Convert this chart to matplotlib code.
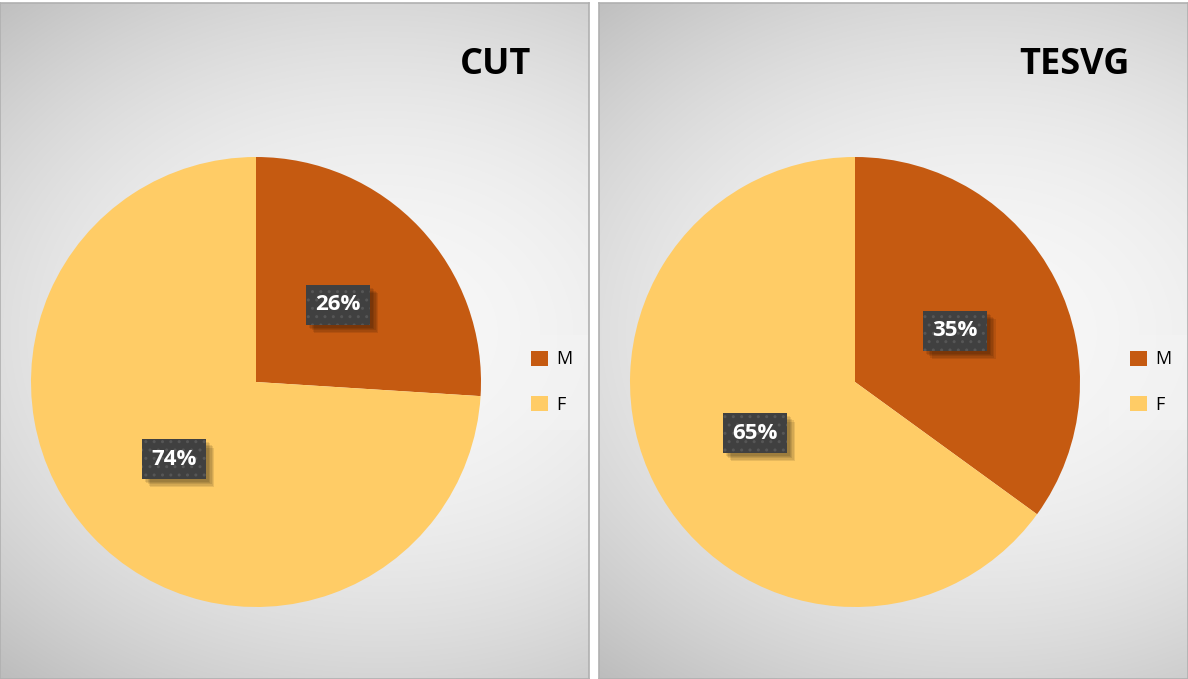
import numpy as np
import matplotlib
matplotlib.use("Agg")
import matplotlib.pyplot as plt
import matplotlib.patheffects as pe

# ==========================================================
# Data
# ==========================================================
titles = ["CUT", "TESVG"]
labels = ["M", "F"]
shares_cut = [26, 74]
shares_tesvg = [35, 65]
colors = ["#C55A11", "#FFCC66"]

W, H = 1188, 679
plt.rcParams["font.family"] = ["Open Sans", "DejaVu Sans"]

fig = plt.figure(figsize=(W / 100, H / 100), dpi=100)
fig.patch.set_facecolor("white")


def px_axes(x, y, w, h, **kw):
    # pixel box with origin top-left -> figure fraction
    return fig.add_axes([x / W, (H - y - h) / H, w / W, h / H], **kw)


def draw_panel(x0, title, shares):
    pw, ph = 589, 676
    bg = px_axes(x0, 3, pw, ph)
    # radial gradient, light right of the pie, grey in the corners
    yy, xx = np.mgrid[0:ph, 0:pw]
    dist = np.sqrt((xx - 380) ** 2 + (1.3 * (yy - 330)) ** 2)
    val = 0.97 - 0.22 * np.clip(dist / 573.0, 0, 1.05) ** 2
    img = np.dstack([val, val, val])
    bg.imshow(img, aspect="auto", extent=[0, pw, ph, 0])
    bg.set_xlim(0, pw)
    bg.set_ylim(ph, 0)
    bg.set_xticks([])
    bg.set_yticks([])
    for s in bg.spines.values():
        s.set_color("#b0b0b0")
        s.set_linewidth(1.2)

    bg.text(531, 62, title, ha="right", va="center", fontsize=26,
            fontweight="bold", color="black")

    # legend background
    bg.add_patch(plt.Rectangle((510, 332), 79, 95, facecolor="#f4f4f4",
                               edgecolor="none", alpha=0.5))

    ax = px_axes(x0 + 31, 157, 450, 450)
    wedges, _, autotexts = ax.pie(
        shares,
        colors=colors,
        startangle=90,
        counterclock=False,
        autopct="%d%%",
        pctdistance=0.5,
        radius=1,
        wedgeprops=dict(linewidth=0),
        textprops=dict(color="white", fontsize=16, fontweight="bold"),
    )
    ax.set_xlim(-1, 1)
    ax.set_ylim(-1, 1)
    for t in autotexts:
        # plain box carrying the soft shadow
        t.set_bbox(dict(boxstyle="square,pad=0.42", facecolor="#404040",
                        edgecolor="none", linewidth=0))
        shadows = [pe.SimplePatchShadow(offset=(k, -k), shadow_rgbFace="black",
                                        alpha=0.09) for k in (2, 3, 4, 5, 6)]
        t.get_bbox_patch().set_path_effects(shadows + [pe.Normal()])
        # dotted box on top
        x, y = t.get_position()
        ax.text(x, y, t.get_text(), ha="center", va="center", color="white",
                fontsize=16, fontweight="bold", zorder=t.get_zorder() + 1,
                bbox=dict(boxstyle="square,pad=0.42", facecolor="#404040",
                          edgecolor="#565656", hatch="..", linewidth=0))

    ax.legend(wedges, labels, loc="center left",
              bbox_to_anchor=((x0 + 515) / W, (H - 382) / H),
              bbox_transform=fig.transFigure, frameon=False,
              fontsize=13, handlelength=0.9, handleheight=0.9,
              handletextpad=0.5, labelspacing=1.5)


draw_panel(0, titles[0], shares_cut)
draw_panel(599, titles[1], shares_tesvg)

plt.savefig("out.png", dpi=100)
